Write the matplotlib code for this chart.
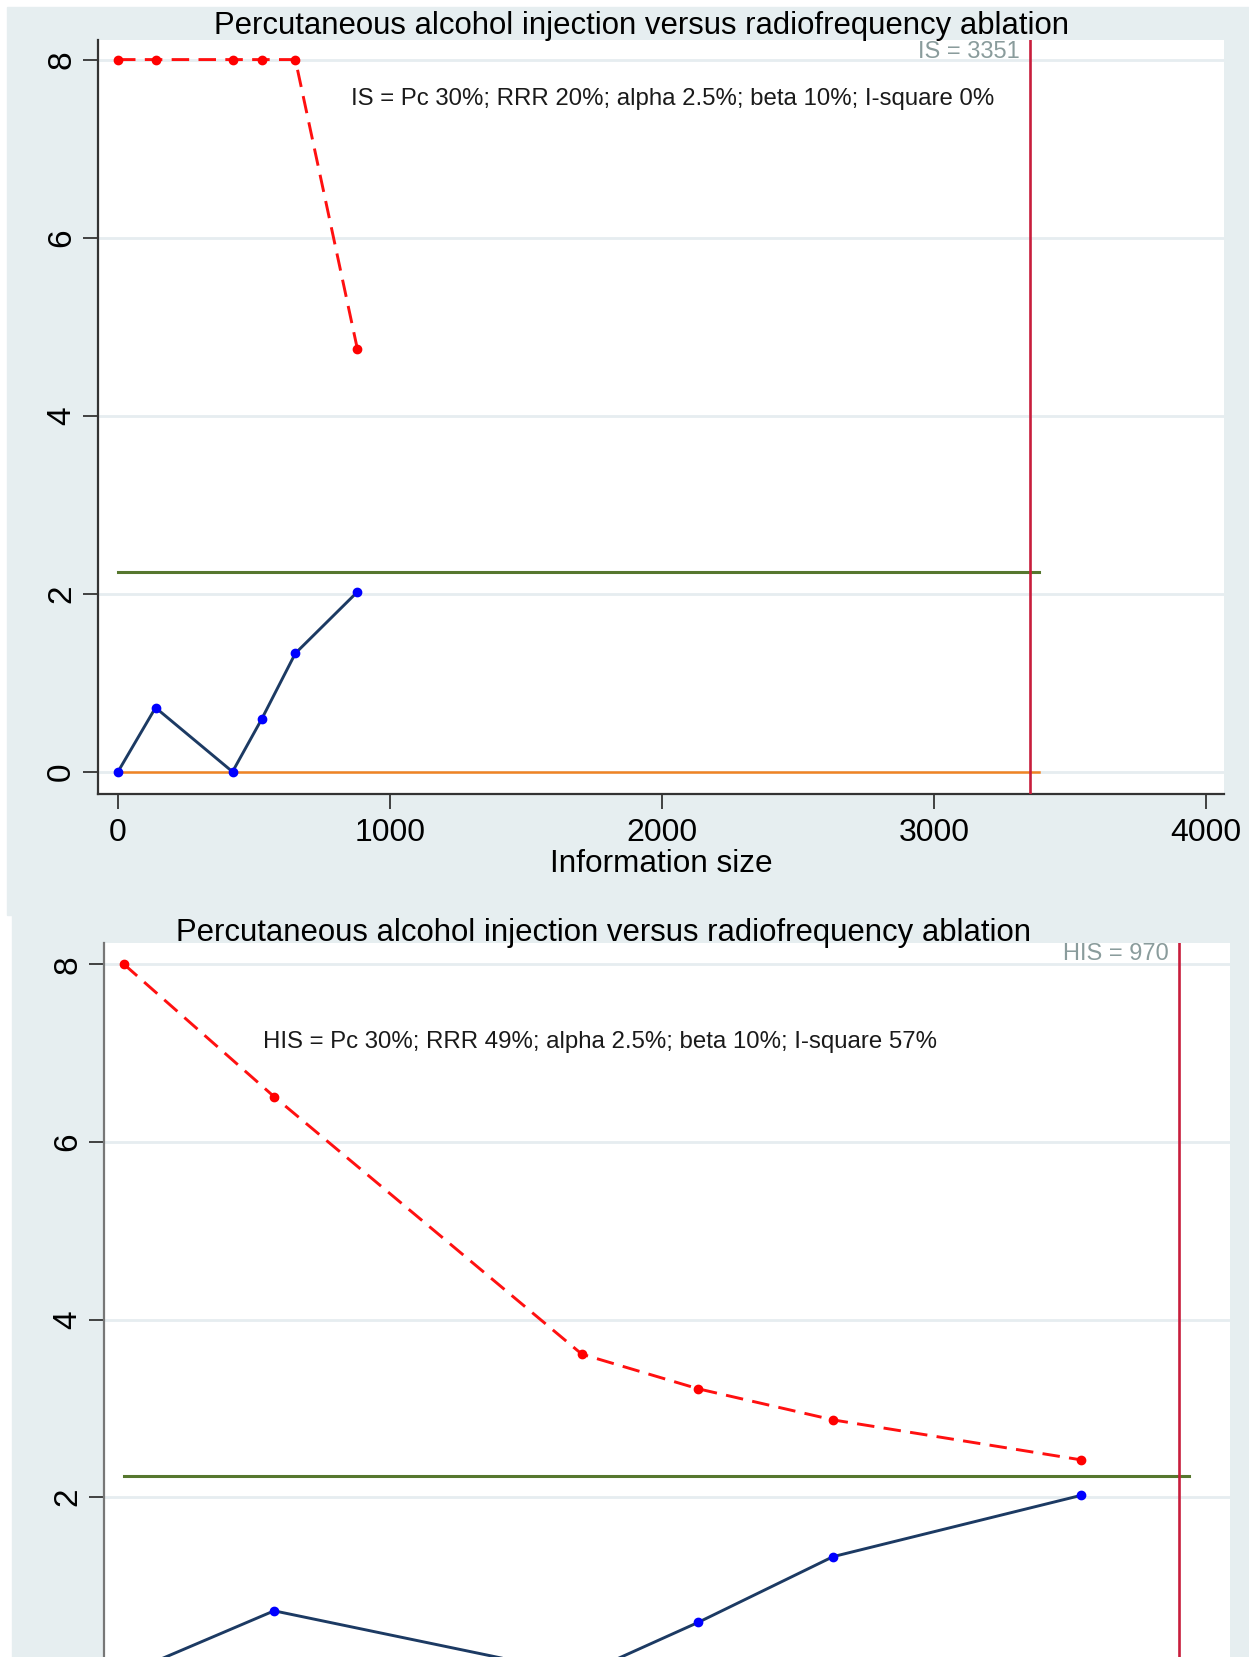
import matplotlib
matplotlib.use('Agg')
import matplotlib.pyplot as plt
from matplotlib.patches import Rectangle

plt.rcParams['font.family'] = ['Liberation Sans', 'DejaVu Sans']

# data
info_size = [0, 138, 421, 528, 652, 880]
z_curve = [0, 0.72, 0, 0.59, 1.33, 2.02]
bound_is = [8, 8, 8, 8, 8, 4.75]
bound_his = [8, 6.51, 3.61, 3.22, 2.87, 2.42]
z_crit = 2.24
req_is = 3351
req_his = 970
y_ticks = [0, 2, 4, 6, 8]
x_ticks = [0, 1000, 2000, 3000, 4000]

title = "Percutaneous alcohol injection versus radiofrequency ablation"
note_is = "IS = Pc 30%; RRR 20%; alpha 2.5%; beta 10%; I-square 0%"
note_his = "HIS = Pc 30%; RRR 49%; alpha 2.5%; beta 10%; I-square 57%"

BG = '#e6eef0'
GRID = '#e6edf0'
W, H = 1249, 1657

fig = plt.figure(figsize=(W / 100, H / 100), dpi=100)
fig.patch.set_facecolor('white')
fig.patches.append(Rectangle((7 / W, 1 - 915 / H), 1, (915 - 7) / H,
                             transform=fig.transFigure, color=BG, zorder=-10))
fig.patches.append(Rectangle((12 / W, 0), 1, (H - 915) / H,
                             transform=fig.transFigure, color=BG, zorder=-10))


def panel(ax, xlim, ylim, bound, req, label, label_y, note, note_xy, spine_col):
    ax.set_facecolor('white')
    ax.set_yticks(y_ticks)
    ax.set_xlim(*xlim)
    ax.set_ylim(*ylim)
    for y in y_ticks:
        ax.axhline(y, color=GRID, lw=2, zorder=0)
    ax.plot([0, req * 1.01], [z_crit, z_crit], color='#56772e', lw=2.2, zorder=2)
    ax.plot([0, req * 1.01], [0, 0], color='#f08424', lw=1.8, zorder=2)
    ax.axvline(req, color='#c81d3c', lw=1.9, zorder=3)
    ax.plot(info_size, bound, color='#ff1010', lw=2.1, ls=(0, (6, 3.2)),
            marker='o', ms=6, mfc='#ff0000', mec='#ff0000', zorder=4)
    ax.plot(info_size, z_curve, color='#1c3a63', lw=2.1, marker='o', ms=6,
            mfc='#0000ff', mec='#0000ff', zorder=4)
    ax.text(req - 0.009 * (xlim[1] - xlim[0]), label_y, label,
            ha='right', va='center', fontsize=17, color='#8a9c9c', zorder=5)
    ax.text(note_xy[0], note_xy[1], note, ha='left', va='center', fontsize=17.3,
            color='#1a1a1a', zorder=5)
    ax.tick_params(axis='y', length=11, width=1.3, labelsize=24, labelrotation=90,
                   pad=4, color='#333333')
    for lab in ax.get_yticklabels():
        lab.set_va('center')
    ax.spines['top'].set_visible(False)
    ax.spines['right'].set_visible(False)
    ax.spines['left'].set_color(spine_col)
    ax.spines['left'].set_linewidth(1.6)


# top panel: conventional information size
ax1 = fig.add_axes([98 / W, 1 - 794 / H, 1126 / W, 754 / H])
ax1.set_xticks(x_ticks)
panel(ax1, (-73.5, 4066), (-0.25, 8.22), bound_is, req_is, "IS = 3351", 8.08,
      note_is, (857, 7.56), '#333333')
ax1.tick_params(axis='x', length=11, width=1.3, labelsize=23, pad=6, color='#333333')
ax1.spines['bottom'].set_color('#333333')
ax1.spines['bottom'].set_linewidth(1.6)
ax1.set_xlabel('Information size', fontsize=22.7, labelpad=1)
fig.text(642 / W, 1 - 26 / H, title, ha='center', va='center', fontsize=22.4)

# bottom panel: heterogeneity-adjusted information size (cut off at the bottom)
ax2 = fig.add_axes([104 / W, 0, 1126 / W, (H - 943) / H])
ax2.set_xticks([])
panel(ax2, (-18.4, 1017), (0.2, 8.24), bound_his, req_his, "HIS = 970", 8.12,
      note_his, (128, 7.13), '#777777')
ax2.spines['bottom'].set_visible(False)
fig.text(603 / W, 1 - 933 / H, title, ha='center', va='center', fontsize=22.4)

fig.savefig('out.png', dpi=100)
